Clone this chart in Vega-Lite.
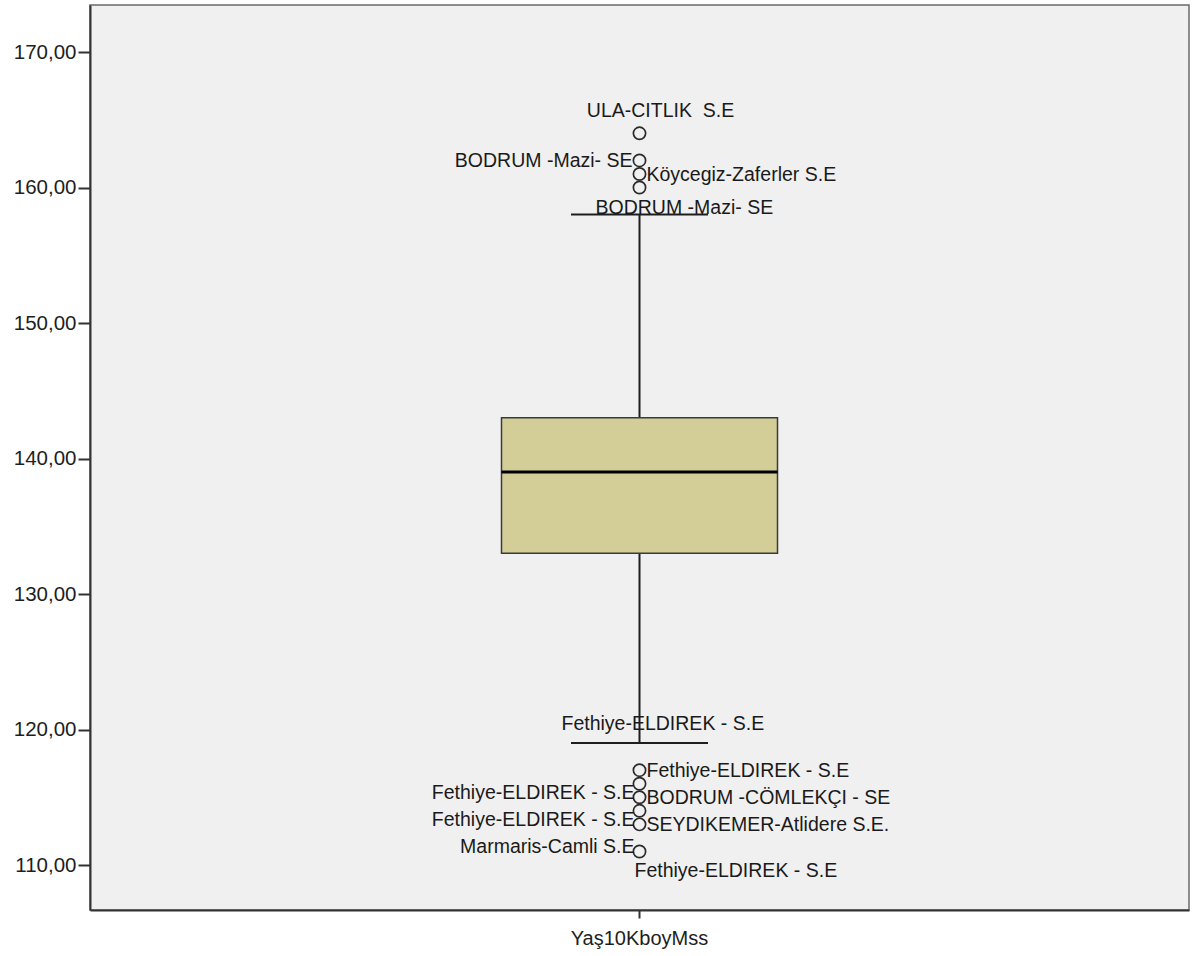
{
  "$schema": "https://vega.github.io/schema/vega-lite/v6.json",
  "width": 1099,
  "height": 905,
  "autosize": {"type": "none"},
  "padding": {"left": 90, "top": 5, "right": 3, "bottom": 46},
  "background": "#ffffff",
  "config": {
    "font": "Liberation Sans",
    "view": {"fill": "#f0f0f0", "stroke": "#6a6a6a", "strokeWidth": 1.5},
    "axis": {"labelFont": "Liberation Sans", "labelColor": "#1e1e1e", "grid": false}
  },
  "datasets": {
    "summary": [
      {"variable": "Yaş10KboyMss", "lower": 119, "q1": 133, "median": 139, "q3": 143, "upper": 158}
    ],
    "outliers": [
      {"variable": "Yaş10KboyMss", "value": 164},
      {"variable": "Yaş10KboyMss", "value": 162},
      {"variable": "Yaş10KboyMss", "value": 161},
      {"variable": "Yaş10KboyMss", "value": 160},
      {"variable": "Yaş10KboyMss", "value": 117},
      {"variable": "Yaş10KboyMss", "value": 116},
      {"variable": "Yaş10KboyMss", "value": 115},
      {"variable": "Yaş10KboyMss", "value": 114},
      {"variable": "Yaş10KboyMss", "value": 113},
      {"variable": "Yaş10KboyMss", "value": 111}
    ],
    "labels": [
      {"variable": "Yaş10KboyMss", "value": 164, "label": "ULA-CITLIK\u00a0 S.E", "pos": "above"},
      {"variable": "Yaş10KboyMss", "value": 162, "label": "BODRUM -Mazi- SE", "pos": "left"},
      {"variable": "Yaş10KboyMss", "value": 161, "label": "Köycegiz-Zaferler S.E", "pos": "right"},
      {"variable": "Yaş10KboyMss", "value": 160, "label": "BODRUM -Mazi- SE", "pos": "below-left"},
      {"variable": "Yaş10KboyMss", "value": 119, "label": "Fethiye-ELDIREK - S.E", "pos": "whisker-above"},
      {"variable": "Yaş10KboyMss", "value": 117, "label": "Fethiye-ELDIREK - S.E", "pos": "right"},
      {"variable": "Yaş10KboyMss", "value": 115, "label": "Fethiye-ELDIREK - S.E", "pos": "upper-left"},
      {"variable": "Yaş10KboyMss", "value": 115, "label": "BODRUM -CÖMLEKÇI - SE", "pos": "right"},
      {"variable": "Yaş10KboyMss", "value": 113, "label": "Fethiye-ELDIREK - S.E", "pos": "upper-left"},
      {"variable": "Yaş10KboyMss", "value": 113, "label": "SEYDIKEMER-Atlidere S.E.", "pos": "right"},
      {"variable": "Yaş10KboyMss", "value": 111, "label": "Marmaris-Camli S.E", "pos": "upper-left"},
      {"variable": "Yaş10KboyMss", "value": 111, "label": "Fethiye-ELDIREK - S.E", "pos": "below"}
    ]
  },
  "encoding": {
    "x": {
      "field": "variable",
      "type": "nominal",
      "scale": {"paddingInner": 0, "paddingOuter": 0},
      "axis": {
        "title": null,
        "labelAngle": 0,
        "labelFontSize": 20,
        "labelPadding": 10,
        "tickSize": 8,
        "tickColor": "#333333",
        "tickWidth": 2,
        "domainColor": "#333333",
        "domainWidth": 2
      }
    }
  },
  "layer": [
    {
      "data": {"name": "summary"},
      "mark": {"type": "rule", "color": "#1e1e1e", "strokeWidth": 2},
      "encoding": {
        "y": {
          "field": "lower",
          "type": "quantitative",
          "scale": {"domain": [106.68, 173.47], "nice": false, "zero": false},
          "axis": {
            "title": null,
            "values": [110, 120, 130, 140, 150, 160, 170],
            "labelExpr": "replace(format(datum.value, '.2f'), '.', ',')",
            "labelFontSize": 20.5,
            "labelPadding": 2,
            "tickSize": 12,
            "tickColor": "#333333",
            "tickWidth": 2,
            "domainColor": "#333333",
            "domainWidth": 2
          }
        },
        "y2": {"field": "upper"}
      }
    },
    {
      "data": {"name": "summary"},
      "mark": {"type": "bar", "size": 276, "fill": "#d3ce97", "stroke": "#3a3a3a", "strokeWidth": 1.5},
      "encoding": {
        "y": {"field": "q1", "type": "quantitative"},
        "y2": {"field": "q3"}
      }
    },
    {
      "data": {"name": "summary"},
      "mark": {"type": "tick", "size": 276, "thickness": 3, "color": "#000000", "opacity": 1},
      "encoding": {"y": {"field": "median", "type": "quantitative"}}
    },
    {
      "data": {"name": "summary"},
      "mark": {"type": "tick", "size": 137, "thickness": 2, "color": "#1e1e1e", "opacity": 1},
      "encoding": {"y": {"field": "upper", "type": "quantitative"}}
    },
    {
      "data": {"name": "summary"},
      "mark": {"type": "tick", "size": 137, "thickness": 2, "color": "#1e1e1e", "opacity": 1},
      "encoding": {"y": {"field": "lower", "type": "quantitative"}}
    },
    {
      "data": {"name": "outliers"},
      "mark": {"type": "point", "shape": "circle", "filled": false, "size": 150, "stroke": "#2a2a2a", "strokeWidth": 1.7, "opacity": 1},
      "encoding": {"y": {"field": "value", "type": "quantitative"}}
    },
    {
      "data": {"name": "labels"},
      "transform": [{"filter": "datum.pos === 'above'"}],
      "mark": {"type": "text", "align": "center", "baseline": "middle", "dx": 21, "dy": -22, "fontSize": 19.5, "color": "#1a1a1a"},
      "encoding": {"y": {"field": "value", "type": "quantitative"}, "text": {"field": "label"}}
    },
    {
      "data": {"name": "labels"},
      "transform": [{"filter": "datum.pos === 'left'"}],
      "mark": {"type": "text", "align": "right", "baseline": "middle", "dx": -7, "dy": 1, "fontSize": 19.5, "color": "#1a1a1a"},
      "encoding": {"y": {"field": "value", "type": "quantitative"}, "text": {"field": "label"}}
    },
    {
      "data": {"name": "labels"},
      "transform": [{"filter": "datum.pos === 'upper-left'"}],
      "mark": {"type": "text", "align": "right", "baseline": "middle", "dx": -5, "dy": -4.5, "fontSize": 19.5, "color": "#1a1a1a"},
      "encoding": {"y": {"field": "value", "type": "quantitative"}, "text": {"field": "label"}}
    },
    {
      "data": {"name": "labels"},
      "transform": [{"filter": "datum.pos === 'right'"}],
      "mark": {"type": "text", "align": "left", "baseline": "middle", "dx": 7, "dy": 1, "fontSize": 19.5, "color": "#1a1a1a"},
      "encoding": {"y": {"field": "value", "type": "quantitative"}, "text": {"field": "label"}}
    },
    {
      "data": {"name": "labels"},
      "transform": [{"filter": "datum.pos === 'below-left'"}],
      "mark": {"type": "text", "align": "left", "baseline": "middle", "dx": -44, "dy": 20, "fontSize": 19.5, "color": "#1a1a1a"},
      "encoding": {"y": {"field": "value", "type": "quantitative"}, "text": {"field": "label"}}
    },
    {
      "data": {"name": "labels"},
      "transform": [{"filter": "datum.pos === 'whisker-above'"}],
      "mark": {"type": "text", "align": "left", "baseline": "middle", "dx": -78, "dy": -19, "fontSize": 19.5, "color": "#1a1a1a"},
      "encoding": {"y": {"field": "value", "type": "quantitative"}, "text": {"field": "label"}}
    },
    {
      "data": {"name": "labels"},
      "transform": [{"filter": "datum.pos === 'below'"}],
      "mark": {"type": "text", "align": "left", "baseline": "middle", "dx": -5, "dy": 20, "fontSize": 19.5, "color": "#1a1a1a"},
      "encoding": {"y": {"field": "value", "type": "quantitative"}, "text": {"field": "label"}}
    }
  ]
}
